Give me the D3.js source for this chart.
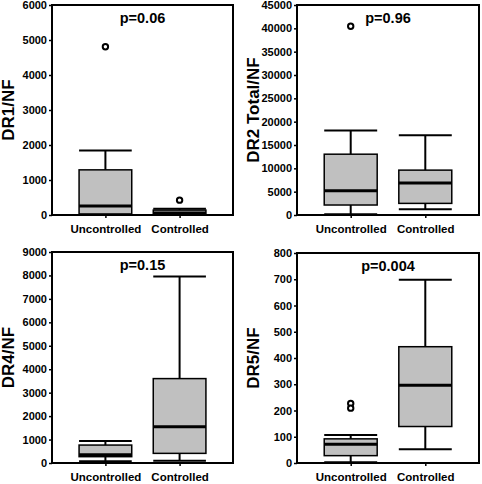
<!DOCTYPE html>
<html><head><meta charset="utf-8">
<script src="https://cdn.jsdelivr.net/npm/d3@7"></script>
<style>body{margin:0;background:#fff}svg{display:block}</style>
</head><body>
<script>
const categories = ["Uncontrolled", "Controlled"];
const panelTitles = ["DR1/NF", "DR2 Total/NF", "DR4/NF", "DR5/NF"];
const pValues = ["p=0.06", "p=0.96", "p=0.15", "p=0.004"];
const yMax = [6000, 45000, 9000, 800];
const yTickStep = [1000, 5000, 1000, 100];
// [min, q1, median, q3, max] per category
const dr1Stats = [[0, 30, 255, 1290, 1845], [0, 10, 60, 140, 180]];
const dr2Stats = [[150, 2140, 5200, 13030, 18090], [1210, 2490, 6840, 9615, 17090]];
const dr4Stats = [[70, 270, 354, 765, 935], [100, 411, 1545, 3600, 7950]];
const dr5Stats = [[3, 28, 71, 92, 107], [52, 139, 296, 443, 698]];
const dr1Outliers = [[4806], [425]];
const dr2Outliers = [[40450], []];
const dr4Outliers = [[], []];
const dr5Outliers = [[227, 209], []];

const statsList = [dr1Stats, dr2Stats, dr4Stats, dr5Stats];
const outlierList = [dr1Outliers, dr2Outliers, dr4Outliers, dr5Outliers];
const frames = [
  {x0: 52, x1: 233, y0: 5, y1: 215},
  {x0: 297, x1: 479, y0: 5, y1: 215},
  {x0: 52, x1: 233, y0: 252, y1: 463},
  {x0: 297, x1: 479, y0: 253, y1: 463}
];

const svg = d3.select("body").append("svg").attr("width", 482).attr("height", 484);
const FONT = "'Liberation Sans', Arial, sans-serif";

frames.forEach((f, i) => {
  const g = svg.append("g");
  const x = d3.scalePoint().domain(categories).range([f.x0, f.x1]).padding(0.72);
  const y = d3.scaleLinear().domain([0, yMax[i]]).range([f.y1, f.y0]);
  const boxW = x.step() * 0.71;

  // frame
  g.append("rect").attr("x", f.x0).attr("y", f.y0).attr("width", f.x1 - f.x0).attr("height", f.y1 - f.y0)
    .attr("fill", "none").attr("stroke", "#000").attr("stroke-width", 2);

  // y axis
  const ticks = d3.range(0, yMax[i] + 1, yTickStep[i]);
  const yAxis = d3.axisLeft(y).tickValues(ticks).tickFormat(d3.format("d")).tickSize(3).tickPadding(2);
  const ya = g.append("g").attr("transform", `translate(${f.x0},0)`).call(yAxis);
  ya.select(".domain").remove();
  ya.selectAll("line").attr("stroke", "#000").attr("stroke-width", 1.5);
  ya.selectAll("text").attr("font-family", FONT).attr("font-weight", "bold").attr("font-size", 11).attr("fill", "#000");

  // x axis
  const xAxis = d3.axisBottom(x).tickSize(3).tickPadding(7);
  const xa = g.append("g").attr("transform", `translate(0,${f.y1})`).call(xAxis);
  xa.select(".domain").remove();
  xa.selectAll("line").attr("stroke", "#000").attr("stroke-width", 1.5);
  xa.selectAll("text").attr("font-family", FONT).attr("font-weight", "bold").attr("font-size", 11.5).attr("fill", "#000");

  // y title
  g.append("text").attr("transform", `translate(${f.x0 - 38},${(f.y0 + f.y1) / 2}) rotate(-90)`)
    .attr("text-anchor", "middle").attr("font-family", FONT).attr("font-weight", "bold")
    .attr("font-size", 17).text(panelTitles[i]);

  // p value
  g.append("text").attr("x", (f.x0 + f.x1) / 2).attr("y", f.y0 + 18).attr("text-anchor", "middle")
    .attr("font-family", FONT).attr("font-weight", "bold").attr("font-size", 14.5).text(pValues[i]);

  // boxes
  categories.forEach((c, j) => {
    const s = statsList[i][j];
    const cx = x(c);
    const bg = g.append("g");
    bg.append("line").attr("x1", cx).attr("x2", cx).attr("y1", y(s[3])).attr("y2", y(s[4]))
      .attr("stroke", "#000").attr("stroke-width", 2);
    bg.append("line").attr("x1", cx).attr("x2", cx).attr("y1", y(s[0])).attr("y2", y(s[1]))
      .attr("stroke", "#000").attr("stroke-width", 2);
    [s[0], s[4]].forEach(v => {
      bg.append("line").attr("x1", cx - boxW / 2).attr("x2", cx + boxW / 2).attr("y1", y(v)).attr("y2", y(v))
        .attr("stroke", "#000").attr("stroke-width", 2);
    });
    bg.append("rect").attr("x", cx - boxW / 2).attr("y", y(s[3])).attr("width", boxW)
      .attr("height", y(s[1]) - y(s[3])).attr("fill", "#c0c0c0").attr("stroke", "#000").attr("stroke-width", 1.5);
    bg.append("line").attr("x1", cx - boxW / 2).attr("x2", cx + boxW / 2).attr("y1", y(s[2])).attr("y2", y(s[2]))
      .attr("stroke", "#000").attr("stroke-width", 3);
    outlierList[i][j].forEach(v => {
      bg.append("circle").attr("cx", cx).attr("cy", y(v)).attr("r", 2.7)
        .attr("fill", "#fff").attr("stroke", "#000").attr("stroke-width", 2);
    });
  });
});
</script>
</body></html>
